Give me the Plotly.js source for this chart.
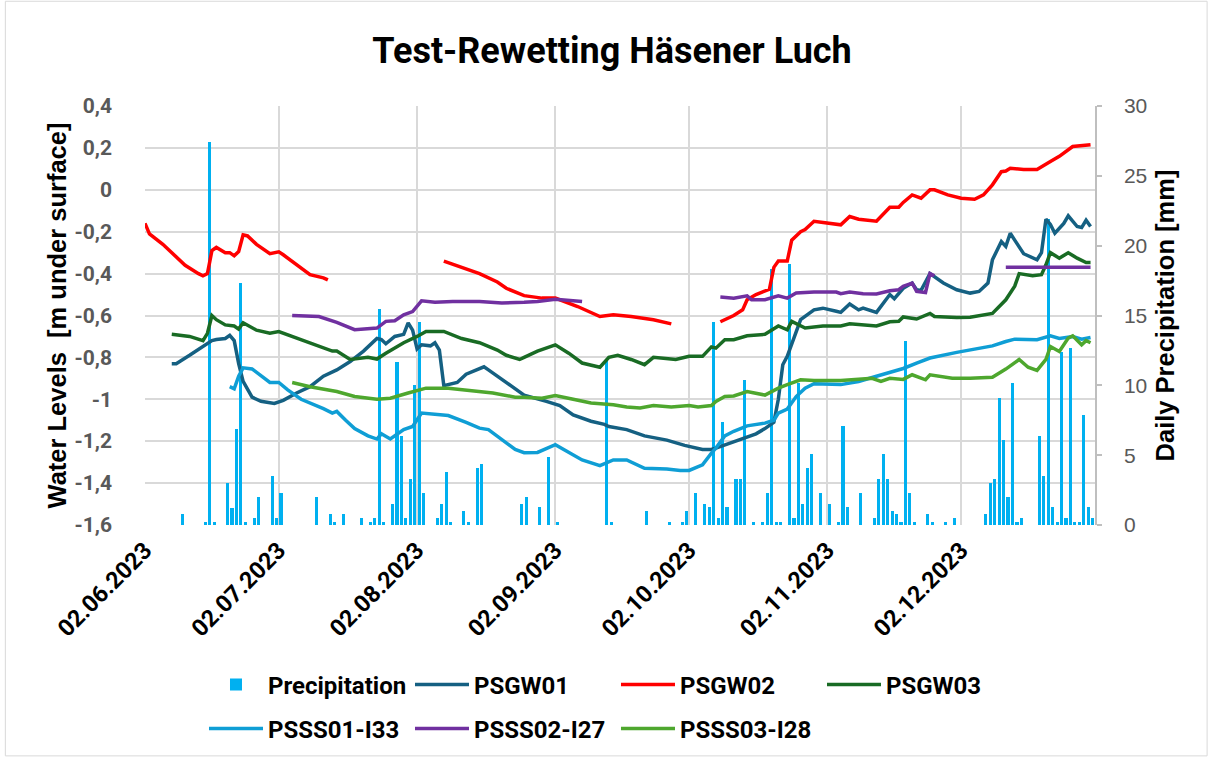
<!DOCTYPE html>
<html>
<head>
<meta charset="utf-8">
<script src="https://cdn.plot.ly/plotly-3.0.1.min.js"></script>
<style>
  html, body { margin: 0; padding: 0; background: #ffffff; }
  #chart { width: 1212px; height: 758px; }
</style>
</head>
<body>
<div id="chart"></div>
<script>
// ---- DATA (days counted from 02.06.2023) ----
const startDate = '2023-06-02';

const precipDays = [8,13,14,15,18,19,20,21,22,24,25,28,29,30,38,41,42,44,48,50,51,52,53,55,56,57,58,59,60,61,62,65,66,67,68,71,72,74,75,84,85,88,90,92,103,104,112,117,120,121,123,125,126,127,128,129,130,132,133,134,136,138,139,140,141,142,144,145,146,147,148,149,151,153,155,156,157,160,163,164,165,166,167,168,169,170,171,172,175,176,179,181,188,189,190,191,192,193,194,195,196,200,201,202,203,204,205,206,207,208,209,210,211,212];
const precipMm = [0.8,0.2,27.4,0.2,3.0,1.2,6.9,17.3,0.2,0.5,2.0,3.5,0.5,2.3,2.0,0.8,0.2,0.8,0.5,0.2,0.5,15.5,0.2,1.5,11.7,6.4,0.5,3.3,10.0,14.5,2.3,0.5,1.5,3.8,0.2,1.0,0.2,4.1,4.35,1.5,2.0,1.3,4.85,0.2,11.9,0.2,1.0,0.2,0.2,1.0,2.3,1.5,1.3,14.5,0.5,7.4,1.3,3.3,3.3,10.4,0.2,0.2,2.3,18.3,0.2,0.2,18.7,0.5,10.2,1.5,4.1,5.1,2.3,1.5,0.2,7.1,1.3,2.3,0.5,3.3,5.1,3.3,1.0,0.8,0.2,13.2,2.3,0.2,0.8,0.2,0.2,0.5,0.8,3.0,3.3,9.1,6.1,2.0,10.2,0.2,0.5,6.4,3.5,21.9,1.3,0.2,12.4,0.5,12.7,0.2,0.2,7.9,1.3,0.5];

const gw01Days = [6,7,10,13,15,16,18,19,20,21,22,24,26,29,31,34,37,40,43,46,49,52,53,54,56,58,59,60,61,62,64,65,66,67,70,72,76,77,80,83,85,90,93,96,100,103,104,108,112,117,121,125,127,128,131,134,137,139,141,142,143,144,146,147,150,152,155,156,158,160,161,164,167,168,170,172,173,174,176,179,182,185,187,189,190,192,193,194,195,197,200,201,202,203,204,206,207,209,210,211,212];
const gw01 = [-0.83,-0.83,-0.79,-0.75,-0.72,-0.715,-0.71,-0.695,-0.72,-0.83,-0.915,-0.99,-1.01,-1.02,-1.005,-0.97,-0.94,-0.89,-0.86,-0.82,-0.77,-0.71,-0.715,-0.735,-0.70,-0.69,-0.635,-0.67,-0.76,-0.74,-0.745,-0.73,-0.765,-0.935,-0.92,-0.88,-0.845,-0.86,-0.905,-0.95,-0.98,-1.01,-1.03,-1.075,-1.105,-1.12,-1.13,-1.145,-1.175,-1.195,-1.22,-1.24,-1.24,-1.233,-1.21,-1.19,-1.165,-1.14,-1.11,-1.00,-0.835,-0.795,-0.68,-0.62,-0.573,-0.565,-0.58,-0.585,-0.545,-0.573,-0.565,-0.585,-0.50,-0.52,-0.47,-0.445,-0.477,-0.48,-0.40,-0.445,-0.477,-0.493,-0.485,-0.445,-0.334,-0.247,-0.27,-0.207,-0.24,-0.305,-0.334,-0.30,-0.14,-0.165,-0.207,-0.16,-0.124,-0.175,-0.18,-0.145,-0.175];

const gw02Days = [0,1,4,5,7,8,9,12,13,14,15,16,18,19,20,21,22,23,25,28,30,31,34,37,40,41,55,67,71,75,79,81,85,89,92,95,97,102,105,109,114,118,123,129,132,134,135,137,140,141,142,144,145,147,148,150,152,156,158,160,164,167,169,170,172,174,176,177,180,183,186,188,190,192,193,194,197,200,203,205,208,210,212];
const gw02 = [-0.16,-0.21,-0.26,-0.28,-0.32,-0.34,-0.36,-0.40,-0.41,-0.40,-0.29,-0.275,-0.30,-0.30,-0.315,-0.295,-0.215,-0.22,-0.26,-0.305,-0.296,-0.31,-0.36,-0.405,-0.42,-0.43,null,-0.34,-0.37,-0.40,-0.44,-0.47,-0.505,-0.517,-0.517,-0.54,-0.557,-0.605,-0.597,-0.605,-0.62,-0.64,null,-0.63,-0.60,-0.573,-0.525,-0.50,-0.475,-0.37,-0.34,-0.34,-0.24,-0.20,-0.19,-0.15,-0.155,-0.167,-0.127,-0.14,-0.15,-0.083,-0.083,-0.06,-0.024,-0.04,0.0,0.0,-0.024,-0.04,-0.045,-0.024,0.024,0.087,0.09,0.103,0.097,0.097,0.135,0.16,0.207,0.21,0.215];

const gw03Days = [6,10,13,14,15,16,18,20,21,22,25,28,30,33,37,39,42,43,46,50,52,54,58,61,63,67,71,75,79,81,84,85,88,92,95,98,102,104,106,109,112,114,119,122,125,127,128,130,132,135,139,142,144,145,148,152,156,158,164,167,169,170,173,176,177,182,185,190,193,195,196,199,201,202,203,205,207,209,211,212];
const gw03 = [-0.69,-0.70,-0.72,-0.685,-0.60,-0.62,-0.645,-0.65,-0.665,-0.635,-0.67,-0.685,-0.677,-0.70,-0.735,-0.75,-0.77,-0.77,-0.81,-0.80,-0.808,-0.78,-0.73,-0.70,-0.676,-0.676,-0.71,-0.73,-0.765,-0.79,-0.81,-0.80,-0.77,-0.74,-0.78,-0.827,-0.847,-0.80,-0.79,-0.81,-0.835,-0.80,-0.81,-0.795,-0.795,-0.75,-0.756,-0.716,-0.716,-0.697,-0.69,-0.65,-0.668,-0.628,-0.66,-0.65,-0.65,-0.64,-0.65,-0.63,-0.628,-0.607,-0.617,-0.59,-0.605,-0.61,-0.608,-0.59,-0.525,-0.46,-0.40,-0.41,-0.405,-0.358,-0.30,-0.326,-0.30,-0.326,-0.347,-0.347];

const ss01Days = [19,20,21,22,24,26,28,30,32,35,38,40,42,43,45,47,50,52,53,55,58,60,62,65,68,72,75,77,80,83,85,88,92,94,98,102,105,108,112,117,120,122,125,127,128,130,132,135,139,141,142,144,146,148,150,156,160,164,167,170,173,176,182,185,190,193,195,200,203,205,208,210,212];
const ss01 = [-0.94,-0.95,-0.89,-0.85,-0.855,-0.89,-0.92,-0.92,-0.955,-1.0,-1.026,-1.045,-1.066,-1.058,-1.10,-1.14,-1.175,-1.19,-1.165,-1.19,-1.145,-1.13,-1.066,-1.074,-1.078,-1.11,-1.138,-1.145,-1.19,-1.24,-1.255,-1.254,-1.217,-1.24,-1.29,-1.317,-1.29,-1.29,-1.33,-1.333,-1.34,-1.34,-1.313,-1.257,-1.233,-1.175,-1.153,-1.127,-1.114,-1.10,-1.066,-1.047,-0.987,-0.947,-0.926,-0.93,-0.915,-0.89,-0.872,-0.853,-0.827,-0.803,-0.776,-0.764,-0.745,-0.724,-0.713,-0.716,-0.697,-0.71,-0.70,-0.713,-0.705];

const ss02Days = [33,39,43,47,52,54,56,58,60,62,65,69,75,80,85,88,92,95,98,110,129,132,135,136,139,142,144,146,150,155,156,158,161,164,167,169,170,172,173,175,176,177,185,193,200,205,208,212];
const ss02 = [-0.60,-0.605,-0.633,-0.668,-0.66,-0.628,-0.625,-0.597,-0.581,-0.53,-0.537,-0.533,-0.533,-0.54,-0.537,-0.533,-0.522,-0.528,-0.533,null,-0.512,-0.517,-0.506,-0.525,-0.525,-0.506,-0.517,-0.493,-0.488,-0.488,-0.496,-0.488,-0.496,-0.497,-0.482,-0.477,-0.46,-0.445,-0.485,-0.49,-0.40,-0.41,null,-0.37,-0.37,-0.366,-0.366,-0.37];

const ss03Days = [33,37,43,47,52,55,59,63,68,74,78,83,85,89,92,96,100,105,108,111,114,118,122,124,127,128,130,132,135,139,142,144,147,150,156,160,163,165,167,170,172,175,176,181,185,190,193,196,198,200,202,203,205,207,208,210,211,212];
const ss03 = [-0.92,-0.94,-0.963,-0.987,-1.0,-0.995,-0.97,-0.947,-0.947,-0.963,-0.97,-0.99,-0.99,-0.995,-0.982,-1.0,-1.018,-1.026,-1.037,-1.042,-1.03,-1.037,-1.03,-1.037,-1.03,-1.01,-0.987,-0.984,-0.963,-0.98,-0.947,-0.93,-0.907,-0.91,-0.91,-0.905,-0.90,-0.915,-0.90,-0.905,-0.883,-0.907,-0.883,-0.90,-0.90,-0.895,-0.856,-0.81,-0.847,-0.862,-0.81,-0.748,-0.772,-0.708,-0.697,-0.74,-0.72,-0.73];

const tickDates = ['2023-06-02','2023-07-02','2023-08-02','2023-09-02','2023-10-02','2023-11-02','2023-12-02'];
const tickDateLabels = ['02.06.2023','02.07.2023','02.08.2023','02.09.2023','02.10.2023','02.11.2023','02.12.2023'];
const levelTicks = [0.4,0.2,0,-0.2,-0.4,-0.6,-0.8,-1.0,-1.2,-1.4,-1.6];
const levelTickLabels = ['0,4','0,2','0','-0,2','-0,4','-0,6','-0,8','-1','-1,2','-1,4','-1,6'];

// ---- helpers ----
function dayToDate(d, hours) {
  const p = startDate.split('-').map(Number);
  const t = Date.UTC(p[0], p[1]-1, p[2]) + d*86400000 + (hours||0)*3600000;
  return new Date(t).toISOString().slice(0,19).replace('T',' ');
}

const FONT_B = 'Roboto, "Liberation Sans", Arial, sans-serif';
const FONT = '"Liberation Sans", Arial, sans-serif';

function lineTrace(name, days, vals, color, legend) {
  return {
    type: 'scatter', mode: 'lines', name: name,
    x: days.map(d => dayToDate(d, 0)), y: vals,
    yaxis: 'y2', connectgaps: false,
    line: { color: color, width: 3.5 },
    legend: legend,
    hoverinfo: 'x+y+name'
  };
}

const traces = [
  {
    type: 'bar', name: 'Precipitation',
    x: precipDays.map(d => dayToDate(d, 12)), y: precipMm,
    yaxis: 'y', width: 0.7*86400000,
    marker: { color: '#00B0F0', line: { width: 0 } },
    legend: 'legend'
  },
  lineTrace('PSGW01', gw01Days, gw01, '#156082', 'legend'),
  lineTrace('PSGW02', gw02Days, gw02, '#FF0000', 'legend'),
  lineTrace('PSGW03', gw03Days, gw03, '#196B24', 'legend'),
  lineTrace('PSSS01-I33', ss01Days, ss01, '#0F9ED5', 'legend2'),
  lineTrace('PSSS02-I27', ss02Days, ss02, '#7030A0', 'legend2'),
  lineTrace('PSSS03-I28', ss03Days, ss03, '#4EA72E', 'legend2')
];

const legendFont = { family: FONT_B, size: 24, color: '#000000', weight: 'bold' };

const layout = {
  width: 1212, height: 758,
  paper_bgcolor: '#ffffff', plot_bgcolor: '#ffffff',
  margin: { l: 145, r: 117, t: 106, b: 233, pad: 0 },
  showlegend: true,
  bargap: 0,
  title: {
    text: '<b>Test-Rewetting Häsener Luch</b>',
    x: 0.505, xanchor: 'center', y: 0.934, yanchor: 'middle',
    font: { family: FONT_B, size: 36, color: '#000000' }
  },
  xaxis: {
    type: 'date',
    range: ['2023-06-02', '2024-01-01'],
    tickvals: tickDates, ticktext: tickDateLabels,
    tickangle: -45,
    ticklabelstandoff: 6,
    tickfont: { family: FONT_B, size: 23.5, color: '#000000', weight: 'bold' },
    showgrid: true, gridcolor: '#D9D9D9', gridwidth: 1.5,
    showline: false, zeroline: false, ticks: '',
    automargin: false
  },
  yaxis: {
    side: 'right',
    range: [0, 30], tickvals: [0,5,10,15,20,25,30],
    showgrid: false, zeroline: false,
    showline: true, linecolor: '#BFBFBF', linewidth: 1.5,
    ticks: 'outside', ticklen: 5, tickcolor: '#BFBFBF', tickwidth: 1.5,
    ticklabelstandoff: 18,
    tickfont: { family: FONT, size: 21, color: '#595959' },
    title: { text: '<b>Daily Precipitation [mm]</b>', standoff: 10,
             font: { family: FONT, size: 25.5, color: '#000000' } },
    automargin: false
  },
  yaxis2: {
    overlaying: 'y', side: 'left',
    range: [-1.6005, 0.4005],
    tickvals: levelTicks, ticktext: levelTickLabels,
    showgrid: true, gridcolor: '#D9D9D9', gridwidth: 1.5,
    zeroline: false, showline: false, ticks: '',
    ticklabelstandoff: 32,
    tickfont: { family: FONT_B, size: 21, color: '#595959', weight: 'bold' },
    title: { text: '<b>Water Levels  [m under surface]</b>', standoff: 0,
             font: { family: FONT, size: 25.5, color: '#000000' } },
    automargin: false
  },
  legend: {
    orientation: 'h', x: 0.0621, xanchor: 'left',
    yref: 'container', y: 0.0963, yanchor: 'middle',
    font: legendFont, bgcolor: 'rgba(0,0,0,0)', traceorder: 'normal',
    itemwidth: 54, entrywidth: 137, entrywidthmode: 'pixels'
  },
  legend2: {
    orientation: 'h', x: 0.0621, xanchor: 'left',
    yref: 'container', y: 0.0383, yanchor: 'middle',
    font: legendFont, bgcolor: 'rgba(0,0,0,0)', traceorder: 'normal',
    itemwidth: 54, entrywidth: 137, entrywidthmode: 'pixels'
  },
  shapes: [
    { type: 'rect', xref: 'paper', yref: 'paper',
      x0: -0.147, x1: 1.118, y0: -0.551, y1: 1.25,
      line: { color: '#D9D9D9', width: 1 }, fillcolor: 'rgba(0,0,0,0)', layer: 'below' }
  ]
};

Plotly.newPlot('chart', traces, layout, { displayModeBar: false, responsive: false });
</script>
</body>
</html>
